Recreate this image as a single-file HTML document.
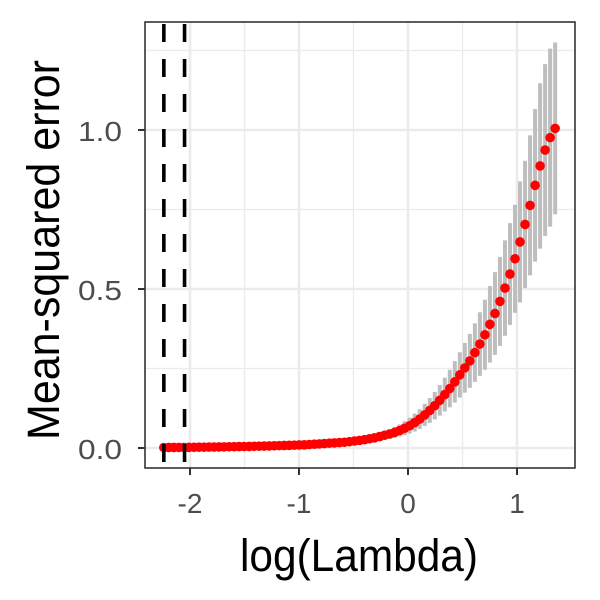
<!DOCTYPE html>
<html><head><meta charset="utf-8"><style>
body{margin:0;background:#fff}
svg{display:block;font-family:"Liberation Sans",sans-serif}
</style></head><body>
<svg width="600" height="600" viewBox="0 0 600 600">
<g id="grid"></g>
<g id="bars"></g>
<g id="pts"></g>
<g id="vlines"></g>
<rect x="145" y="22" width="430" height="446" fill="none" stroke="#333" stroke-width="1.6"/>
<g id="axes"></g>
<text x="359" y="571" font-size="45" text-anchor="middle" textLength="238" lengthAdjust="spacingAndGlyphs" fill="#000">log(Lambda)</text>
<text transform="translate(59,250) rotate(-90)" font-size="45" text-anchor="middle" textLength="380" lengthAdjust="spacingAndGlyphs" fill="#000">Mean-squared error</text>
</svg>
<script>
// values ordered from largest lambda (right) to smallest (left)
const mse = [1.005,0.976,0.937,0.887,0.826,0.763,0.703,0.648,0.595,0.547,0.503,0.461,0.423,0.389,0.356,0.327,0.300,0.274,0.252,0.230,
0.208,0.187,0.168,0.150,0.133,0.118,0.104,0.091,0.080,0.070,0.062,0.055,0.049,0.044,0.040,0.036,0.032,0.029,0.026,0.024,
0.022,0.020,0.018,0.017,0.016,0.015,0.014,0.013,0.012,0.011,0.010,0.0095,0.009,0.0085,0.008,0.0075,0.007,0.0066,0.0062,0.0058,
0.0054,0.005,0.0047,0.0044,0.0041,0.0038,0.0035,0.0033,0.0031,0.0029,0.0027,0.0025,0.0023,0.0021,0.002,0.0019,0.0018,0.0017,0.0016];
const se = [0.27,0.28,0.27,0.26,0.24,0.22,0.20,0.19,0.17,0.16,0.15,0.14,0.13,0.12,0.11,0.10,0.092,0.085,0.078,0.071,
0.065,0.059,0.053,0.048,0.043,0.039,0.035,0.031,0.028,0.025,0.022,0.019,0.017,0.015,0.013,0.012,0.011,0.010,0.009,0.008,
0.007,0.006,0.006,0.005,0.005,0.004,0.004,0.004,0.003,0.003,0.003,0.002,0.002,0.002,0.002,0.002,0.002,0.002,0.002,0.002,
0.001,0.001,0.001,0.001,0.001,0.001,0.001,0.001,0.001,0.001,0.001,0.001,0.001,0.001,0.001,0.001,0.001,0.001,0.001];
const logLambdaMax = 1.35;
const logLambdaMin = -2.24;
const vlineValues = [-2.24,-2.05];
const xTicks = [-2,-1,0,1];
const xTickLabels = ["-2","-1","0","1"];
const yTicks = [0,0.5,1.0];
const yTickLabels = ["0.0","0.5","1.0"];
const xMinor = [-1.5,-0.5,0.5];
const yMinor = [0.25,0.75,1.25];

const X = v => 408 + v*109;
const Y = v => 448 - v*318;
const NS = "http://www.w3.org/2000/svg";
function mk(tag, parent, attrs){const e=document.createElementNS(NS,tag);for(const k in attrs)e.setAttribute(k,attrs[k]);parent.appendChild(e);return e;}
const grid=document.getElementById('grid'),bars=document.getElementById('bars'),pts=document.getElementById('pts'),vl=document.getElementById('vlines'),axes=document.getElementById('axes');
xMinor.forEach(v=>{const l=mk('line',grid,{x1:X(v),x2:X(v),y1:22,y2:468,stroke:'#ebebeb','stroke-width':1.3});

});
yMinor.forEach(v=>{const l=mk('line',grid,{x1:145,x2:575,y1:Y(v),y2:Y(v),stroke:'#ebebeb','stroke-width':1.3});

});
xTicks.forEach((v,i)=>{const l=mk('line',grid,{x1:X(v),x2:X(v),y1:22,y2:468,stroke:'#ebebeb','stroke-width':2.6});


const t=mk('line',axes,{x1:X(v),x2:X(v),y1:468,y2:475,stroke:'#333','stroke-width':2});


const tx=mk('text',axes,{x:X(v),y:513,'font-size':28,'text-anchor':'middle',fill:'#4d4d4d'});tx.textContent=xTickLabels[i];

});
yTicks.forEach((v,i)=>{const l=mk('line',grid,{x1:145,x2:575,y1:Y(v),y2:Y(v),stroke:'#ebebeb','stroke-width':2.6});


const t=mk('line',axes,{x1:138,x2:145,y1:Y(v),y2:Y(v),stroke:'#333','stroke-width':2});


const tx=mk('text',axes,{x:78,y:Y(v)+11,'font-size':28,textLength:44,lengthAdjust:'spacingAndGlyphs',fill:'#4d4d4d'});tx.textContent=yTickLabels[i];

});
const n=mse.length, step=(logLambdaMax-logLambdaMin)/(n-1);
mse.forEach((m,i)=>{const lx=logLambdaMax-i*step;
const b=mk('line',bars,{x1:X(lx),x2:X(lx),y1:Y(m+se[i]),y2:Y(m-se[i]),stroke:'#bebebe','stroke-width':4});

});
mse.forEach((m,i)=>{const lx=logLambdaMax-i*step;
const c=mk('circle',pts,{cx:X(lx),cy:Y(m),r:4.8,fill:'#ff0000'});

});
vlineValues.forEach(v=>{const l=mk('line',vl,{x1:X(v),x2:X(v),y1:24,y2:468,stroke:'#000','stroke-width':3.6,'stroke-dasharray':'18 17'});

});
</script>
</body></html>
